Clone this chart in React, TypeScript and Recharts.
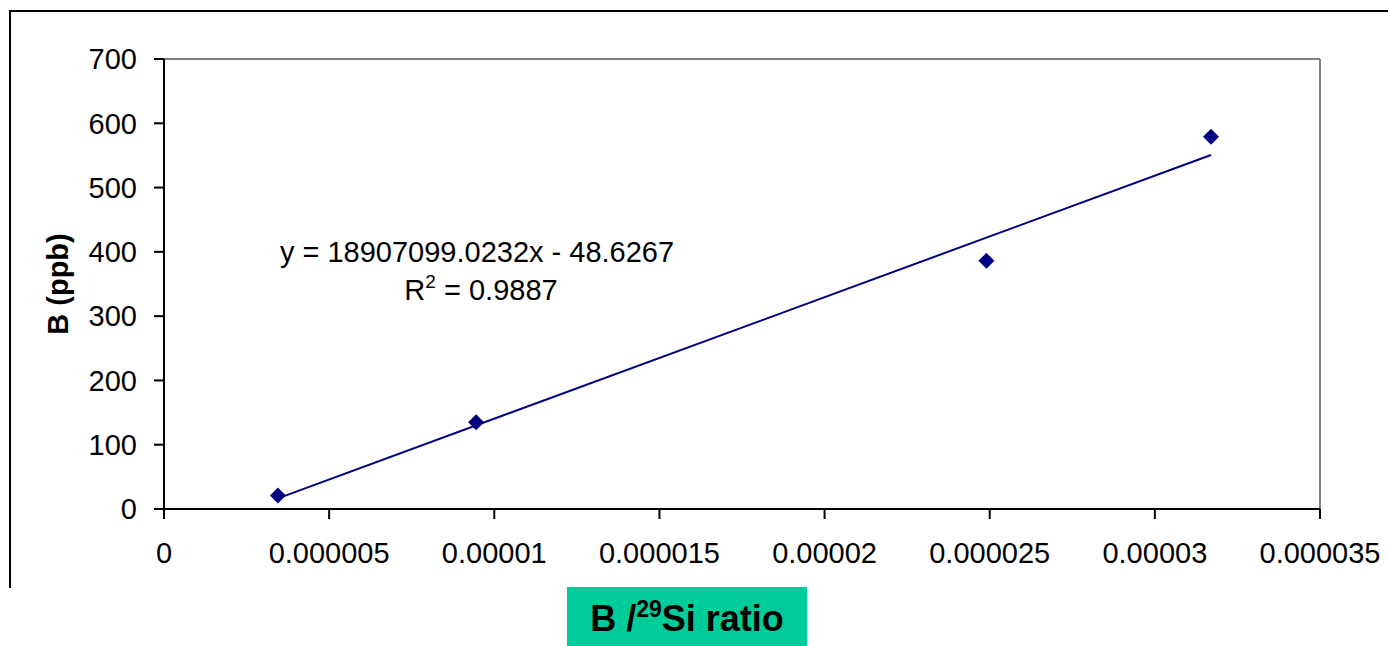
import React from "react";
import { ScatterChart, Scatter, XAxis, YAxis, ReferenceLine } from "recharts";

// measured points (B/29Si ratio vs B ppb)
const POINTS = [
  { x: 0.00000345, y: 21 },
  { x: 0.00000945, y: 135 },
  { x: 0.0000249, y: 386 },
  { x: 0.0000317, y: 579 },
];

// linear trend line end points
const TREND = [
  { x: 0.00000345, y: 16.6 },
  { x: 0.0000317, y: 550.7 },
];

const X_TICKS = [0, 0.000005, 0.00001, 0.000015, 0.00002, 0.000025, 0.00003, 0.000035];
const X_TICK_LABELS = ["0", "0.000005", "0.00001", "0.000015", "0.00002", "0.000025", "0.00003", "0.000035"];
const Y_TICKS = [0, 100, 200, 300, 400, 500, 600, 700];

const FONT = "'Liberation Sans', Arial, sans-serif";
const NAVY = "#000080";

const Diamond = (props: { cx?: number; cy?: number }) => {
  const { cx = 0, cy = 0 } = props;
  const r = 8;
  return <path d={`M${cx},${cy - r}L${cx + r},${cy}L${cx},${cy + r}L${cx - r},${cy}Z`} fill={NAVY} />;
};

export default function App() {
  const tick = { fill: "#000", fontSize: 29, fontFamily: FONT };
  return (
    <div style={{ position: "absolute", left: 0, top: 0, width: 1388, height: 646, background: "#fff", overflow: "hidden" }}>
      {/* outer frame */}
      <div style={{
        position: "absolute", left: 9, top: 10, width: 1388, height: 576,
        borderTop: "2px solid #000", borderLeft: "2px solid #000",
      }} />

      <div style={{ position: "absolute", left: 0, top: 0 }}>
        <ScatterChart width={1388} height={646} margin={{ top: 59, right: 68, bottom: 77, left: 0 }}>
          <XAxis
            type="number" dataKey="x" domain={[0, 0.000035]} ticks={X_TICKS} interval={0}
            tickFormatter={(v: number, i: number) => X_TICK_LABELS[i] ?? String(v)}
            axisLine={{ stroke: "#000", strokeWidth: 2 }}
            tickLine={{ stroke: "#000", strokeWidth: 2 }}
            tickSize={10} tickMargin={23} height={60} tick={tick}
          />
          <YAxis
            type="number" dataKey="y" domain={[0, 700]} ticks={Y_TICKS} interval={0}
            axisLine={{ stroke: "#000", strokeWidth: 2 }}
            tickLine={{ stroke: "#000", strokeWidth: 2 }}
            tickSize={10} tickMargin={17} width={164} tick={tick}
          />
          <ReferenceLine y={700} stroke="#808080" strokeWidth={2} />
          <ReferenceLine x={0.000035} stroke="#808080" strokeWidth={2} />
          <Scatter
            data={TREND} line={{ stroke: NAVY, strokeWidth: 2 }}
            shape={() => <g />} isAnimationActive={false}
          />
          <Scatter data={POINTS} shape={<Diamond />} isAnimationActive={false} />
        </ScatterChart>
      </div>

      {/* labels */}
      <svg width={1388} height={646} style={{ position: "absolute", left: 0, top: 0, pointerEvents: "none" }}>
        <text
          x={68} y={284} transform="rotate(-90, 68, 284)" textAnchor="middle"
          fontFamily={FONT} fontWeight="bold" fontSize={29} fill="#000"
        >
          B (ppb)
        </text>
        <text x={477} y={262} textAnchor="middle" fontFamily={FONT} fontSize={29} fill="#000">
          y = 18907099.0232x - 48.6267
        </text>
        <text x={481} y={300} textAnchor="middle" fontFamily={FONT} fontSize={29} fill="#000">
          R<tspan fontSize={19} dy={-12}>2</tspan><tspan dy={12}> = 0.9887</tspan>
        </text>
      </svg>

      <div style={{
        position: "absolute", left: 567, top: 587, width: 240, height: 59,
        background: "#00CC99", display: "flex", alignItems: "center", justifyContent: "center",
        fontFamily: FONT, fontWeight: "bold", fontSize: 36, color: "#000", paddingTop: 4, boxSizing: "border-box",
      }}>
        <span>B /<sup style={{ fontSize: 23, verticalAlign: "top", position: "relative", top: -2 }}>29</sup>Si ratio</span>
      </div>
    </div>
  );
}
